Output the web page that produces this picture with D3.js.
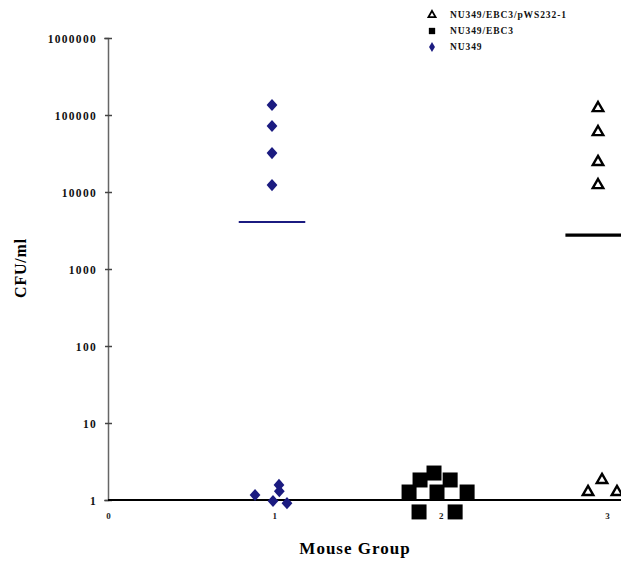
<!DOCTYPE html>
<html><head><meta charset="utf-8">
<script src="https://cdn.jsdelivr.net/npm/d3@7"></script>
<style>body{margin:0;background:#fff}svg{display:block}text{font-family:"Liberation Serif","Times New Roman",serif;font-weight:bold}</style>
</head><body><svg id="c" width="621" height="561"></svg>
<script>
// ---- data ----
const seriesNames = ["NU349/EBC3/pWS232-1", "NU349/EBC3", "NU349"];
const yTickValues = [1, 10, 100, 1000, 10000, 100000, 1000000];
const yTickLabels = ["1", "10", "100", "1000", "10000", "100000", "1000000"];
const xTickValues = [0, 1, 2, 3];
const xTickLabels = ["0", "1", "2", "3"];
// Group 1: NU349 (diamonds) - x positions (with plotted jitter) and CFU/ml
const nu349X = [0.986, 0.986, 0.986, 0.986, 0.884, 0.992, 1.028, 1.03, 1.076];
const nu349Y = [135000, 72000, 32000, 12300, 1.16, 0.97, 1.57, 1.3, 0.91];
const nu349Mean = 4070;
// Group 2: NU349/EBC3 (filled squares)
const ebcX = [1.960, 1.876, 2.057, 1.810, 1.978, 2.159, 1.870, 2.087];
const ebcY = [2.24, 1.82, 1.82, 1.27, 1.27, 1.27, 0.70, 0.70];
// Group 3: NU349/EBC3/pWS232-1 (open triangles)
const compX = [2.946, 2.946, 2.946, 2.946, 2.886, 2.97, 3.06];
const compY = [123000, 60000, 24500, 12300, 1.27, 1.82, 1.27];
const compMean = 2760;
const meanX = [0.986, 2.95];

const svg = d3.select("#c");
const x = d3.scaleLinear().domain([0, 3]).range([108, 607]);
const y = d3.scaleLog().domain([1, 1000000]).range([500, 38]);
const navy = "#1b1b80";

// y axis
const yAxis = d3.axisLeft(y).tickValues(yTickValues).tickFormat((d, i) => yTickLabels[i]).tickSize(4).tickPadding(7);
const gy = svg.append("g").attr("transform", "translate(108,0)").call(yAxis);
gy.select(".domain").attr("stroke", "#666").attr("stroke-width", 1.5);
gy.selectAll(".tick line").attr("stroke", "#444").attr("stroke-width", 1.5).attr("x2", 4).attr("x1", -3);
gy.selectAll(".tick text").attr("font-size", 11.5).attr("letter-spacing", 1.3).attr("fill", "#111").attr("dy", "0.35em");

// x axis
const xAxis = d3.axisBottom(x).tickValues(xTickValues).tickFormat((d, i) => xTickLabels[i]).tickSize(0).tickPadding(13);
const gx = svg.append("g").attr("transform", `translate(0,${y(1)})`).call(xAxis);
gx.select(".domain").remove();
gx.selectAll(".tick text").attr("font-size", 9).attr("fill", "#222");
svg.append("line").attr("x1", x(0)).attr("x2", 621).attr("y1", y(1)).attr("y2", y(1))
  .attr("stroke", "#000").attr("stroke-width", 2.2);

// mean lines
svg.append("line").attr("x1", x(meanX[0] - 0.2)).attr("x2", x(meanX[0] + 0.2))
  .attr("y1", y(nu349Mean)).attr("y2", y(nu349Mean)).attr("stroke", navy).attr("stroke-width", 2);
svg.append("line").attr("x1", x(meanX[1] - 0.2)).attr("x2", x(meanX[1] + 0.2))
  .attr("y1", y(compMean)).attr("y2", y(compMean)).attr("stroke", "#000").attr("stroke-width", 3.2);

// markers
const diamond = d3.symbol().type(d3.symbolDiamond).size(70);
const square = d3.symbol().type(d3.symbolSquare).size(225);
const tri = d3.symbol().type(d3.symbolTriangle).size(48);

svg.append("g").selectAll("path").data(ebcX.map((v, i) => [v, ebcY[i]])).join("path")
  .attr("d", square).attr("transform", d => `translate(${x(d[0])},${y(d[1])})`).attr("fill", "#000");

svg.append("g").selectAll("path").data(nu349X.map((v, i) => [v, nu349Y[i]])).join("path")
  .attr("d", diamond).attr("transform", d => `translate(${x(d[0])},${y(d[1])}) scale(1.2,0.78)`).attr("fill", navy);

svg.append("g").selectAll("path").data(compX.map((v, i) => [v, compY[i]])).join("path")
  .attr("d", tri).attr("transform", d => `translate(${x(d[0])},${y(d[1])})`)
  .attr("fill", "#fff").attr("stroke", "#000").attr("stroke-width", 2.4);

// axis titles
svg.append("text").attr("transform", "translate(26,268) rotate(-90)").attr("text-anchor", "middle")
  .attr("font-size", 16).attr("letter-spacing", 0.8).text("CFU/ml");
svg.append("text").attr("x", 355).attr("y", 554).attr("text-anchor", "middle")
  .attr("font-size", 17).attr("letter-spacing", 1).text("Mouse Group");

// legend
const legY = [15, 31, 47];
seriesNames.forEach((n, i) => {
  const g = svg.append("g").attr("transform", `translate(432,${legY[i]})`);
  const sym = i === 0 ? d3.symbol().type(d3.symbolTriangle).size(22)
            : i === 1 ? d3.symbol().type(d3.symbolSquare).size(40)
            : d3.symbol().type(d3.symbolDiamond).size(30);
  const p = g.append("path").attr("d", sym());
  if (i === 0) p.attr("fill", "#fff").attr("stroke", "#000").attr("stroke-width", 1.8);
  else p.attr("fill", i === 1 ? "#000" : navy);
  g.append("text").attr("x", 18).attr("dy", "0.35em").attr("font-size", 9.5).attr("letter-spacing", 0.9).attr("fill", "#111").text(n);
});
</script></body></html>
